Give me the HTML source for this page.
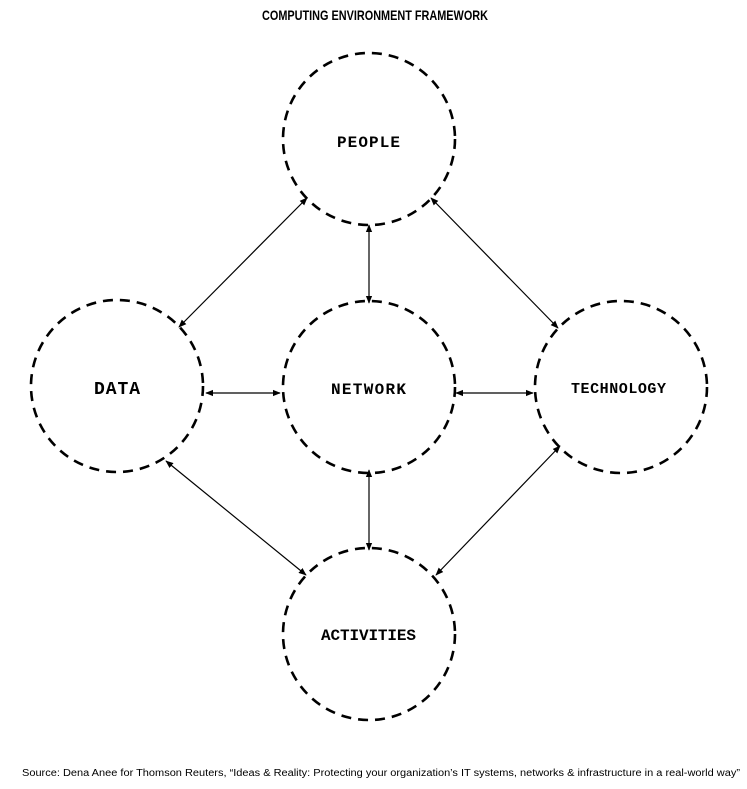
<!DOCTYPE html>
<html><head><meta charset="utf-8"><style>
html,body{margin:0;padding:0;background:#fff;}
svg{display:block;}
</style></head><body>
<svg width="747" height="789" viewBox="0 0 747 789" xmlns="http://www.w3.org/2000/svg">
<defs>
<marker id="a" viewBox="0 0 10 10" refX="9" refY="5" markerWidth="8" markerHeight="8" orient="auto-start-reverse" markerUnits="userSpaceOnUse">
<path d="M0,1 L10,5 L0,9 z" fill="#000"/></marker>
</defs>
<text x="375" y="20" text-anchor="middle" font-family="Liberation Sans, sans-serif" font-weight="bold" font-size="14" textLength="226" lengthAdjust="spacingAndGlyphs">COMPUTING ENVIRONMENT FRAMEWORK</text>
<g fill="none" stroke="#000" stroke-width="2.6" stroke-dasharray="10 7">
<circle cx="369" cy="139" r="86"/>
<circle cx="117" cy="386" r="86"/>
<circle cx="369" cy="387" r="86"/>
<circle cx="621" cy="387" r="86"/>
<circle cx="369" cy="634" r="86"/>
</g>
<g stroke="#000" stroke-width="1.2" marker-start="url(#a)" marker-end="url(#a)">
<line x1="307" y1="198" x2="179" y2="327"/>
<line x1="431" y1="198" x2="558" y2="328"/>
<line x1="369" y1="225" x2="369" y2="303"/>
<line x1="369" y1="470" x2="369" y2="550"/>
<line x1="206" y1="393" x2="280" y2="393"/>
<line x1="456" y1="393" x2="533" y2="393"/>
<line x1="166" y1="461" x2="306" y2="575"/>
<line x1="560" y1="446" x2="436" y2="575"/>
</g>
<g font-family="Liberation Mono, monospace" font-weight="bold" font-size="17" lengthAdjust="spacingAndGlyphs">
<text x="337" y="147" textLength="63" font-size="16">PEOPLE</text>
<text x="94" y="394" textLength="46" font-size="18">DATA</text>
<text x="331" y="394" textLength="75" font-size="16">NETWORK</text>
<text x="571" y="393" textLength="95" font-size="15">TECHNOLOGY</text>
<text x="321" y="640" textLength="95" font-size="16">ACTIVITIES</text>
</g>
<text x="22" y="776" font-family="Liberation Sans, sans-serif" font-size="10" textLength="718" lengthAdjust="spacingAndGlyphs">Source: Dena Anee for Thomson Reuters, “Ideas &amp; Reality: Protecting your organization’s IT systems, networks &amp; infrastructure in a real-world way”</text>
</svg>
</body></html>
